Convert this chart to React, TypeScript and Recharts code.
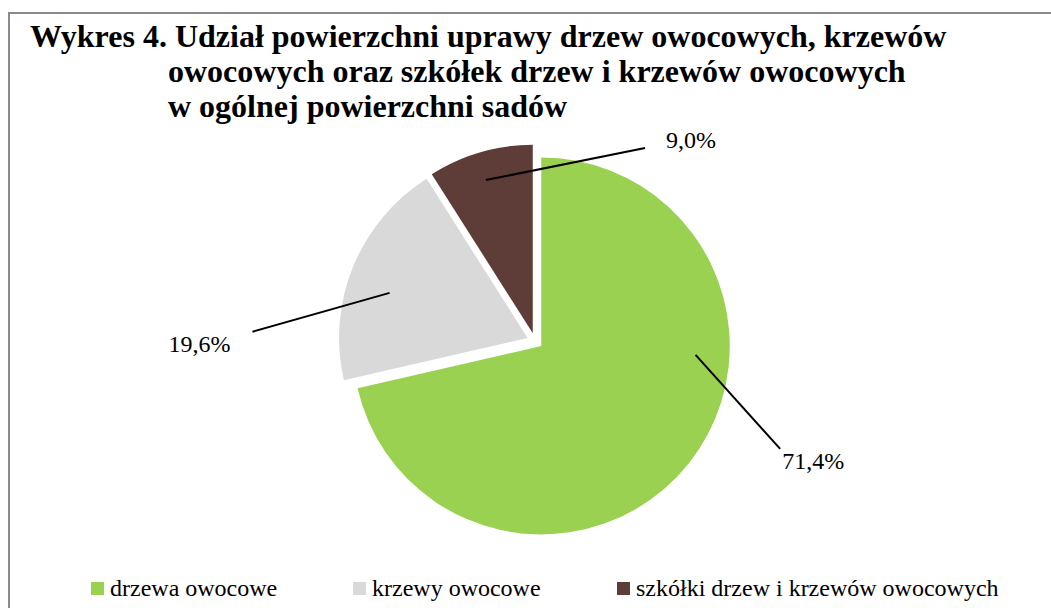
import * as React from "react";
import { PieChart, Pie, Cell, Sector, Legend } from "recharts";

const categories = ["drzewa owocowe", "krzewy owocowe", "szkółki drzew i krzewów owocowych"];
const shares = [71.4, 19.6, 9.0];
const colors = ["#9BD151", "#D9D9D9", "#5E3C38"];

const titleLines = [
  "Wykres 4. Udział powierzchni uprawy drzew owocowych, krzewów",
  "owocowych oraz szkółek drzew i krzewów owocowych",
  "w ogólnej powierzchni sadów",
];

const data = categories.map((name, i) => ({ name, value: shares[i] }));

const FONT = "'Liberation Serif', 'Times New Roman', serif";
const RAD = Math.PI / 180;
const EXPLODE = 8;

// leader line layout per slice: polar (angle in deg, radius as fraction of outerRadius)
const labelLayout = [
  { a0: -3.3, r0: 0.82, a1: -23.3, r1: 1.38, dx: 2, dy: 20, anchor: "start" },
  { a0: 161.9, r0: 0.77, a1: 178.7, r1: 1.46, dx: -22, dy: 20, anchor: "end" },
  { a0: 107, r0: 0.85, a1: 58.8, r1: 1.15, dx: 21, dy: 0, anchor: "start" },
];

function explodeOffset(midAngle: number) {
  return {
    dx: EXPLODE * Math.cos(-midAngle * RAD),
    dy: EXPLODE * Math.sin(-midAngle * RAD),
  };
}

function renderSector(props: any) {
  const { dx, dy } = explodeOffset(props.midAngle);
  return <Sector {...props} cx={props.cx + dx} cy={props.cy + dy} />;
}

function renderLabel(props: any) {
  const { cx, cy, midAngle, outerRadius, index, value } = props;
  const L = labelLayout[index];
  const { dx, dy } = explodeOffset(midAngle);
  const ox = cx + dx;
  const oy = cy + dy;
  const pt = (a: number, r: number) => [
    ox + r * outerRadius * Math.cos(-a * RAD),
    oy + r * outerRadius * Math.sin(-a * RAD),
  ];
  const [x0, y0] = pt(L.a0, L.r0);
  const [x1, y1] = pt(L.a1, L.r1);
  return (
    <g>
      <line x1={x0} y1={y0} x2={x1} y2={y1} stroke="#000" strokeWidth={2} />
      <text
        x={x1 + L.dx}
        y={y1 + L.dy}
        textAnchor={L.anchor}
        fontFamily={FONT}
        fontSize={24}
        fill="#000"
      >
        {Number(value).toFixed(1).replace(".", ",")}%
      </text>
    </g>
  );
}

const legendColumns = [262, 264, 400];

function renderLegend() {
  return (
    <div style={{ display: "flex", paddingLeft: 91, fontFamily: FONT, fontSize: 24, color: "#000" }}>
      {categories.map((c, i) => (
        <div key={c} style={{ width: legendColumns[i], display: "flex", alignItems: "center", whiteSpace: "nowrap" }}>
          <span style={{ width: 13, height: 13, background: colors[i], marginRight: 6, display: "inline-block" }} />
          <span>{c}</span>
        </div>
      ))}
    </div>
  );
}

export default function App() {
  const pieProps: any = {
    shape: renderSector,
    inactiveShape: renderSector,
    activeShape: renderSector,
  };
  return (
    <div
      style={{
        position: "fixed",
        left: 0,
        top: 0,
        width: 1051,
        height: 608,
        overflow: "hidden",
        background: "#fff",
      }}
    >
      <div
        style={{
          position: "absolute",
          left: 8,
          top: 12,
          width: 1200,
          height: 800,
          border: "2px solid #8a8a8a",
          boxSizing: "border-box",
        }}
      />
      <div
        style={{
          position: "absolute",
          left: 30,
          top: 19,
          fontFamily: FONT,
          fontWeight: "bold",
          fontSize: 32,
          lineHeight: "35px",
          color: "#000",
          whiteSpace: "nowrap",
        }}
      >
        {titleLines.map((t, i) => (
          <div key={i} style={{ paddingLeft: i === 0 ? 0 : 138 }}>
            {t}
          </div>
        ))}
      </div>
      <div style={{ position: "absolute", left: 0, top: 0 }}>
        <PieChart width={1051} height={608} margin={{ top: 0, right: 0, bottom: 0, left: 0 }}>
          <Pie
            data={data}
            dataKey="value"
            nameKey="name"
            cx={535}
            cy={341}
            outerRadius={188.5}
            startAngle={90}
            endAngle={-270}
            stroke="none"
            isAnimationActive={false}
            label={renderLabel}
            labelLine={false}
            {...pieProps}
          >
            {data.map((d, i) => (
              <Cell key={d.name} fill={colors[i]} />
            ))}
          </Pie>
          <Legend
            content={renderLegend}
            wrapperStyle={{ left: 0, top: 575, width: 1051, bottom: "auto" }}
          />
        </PieChart>
      </div>
    </div>
  );
}
